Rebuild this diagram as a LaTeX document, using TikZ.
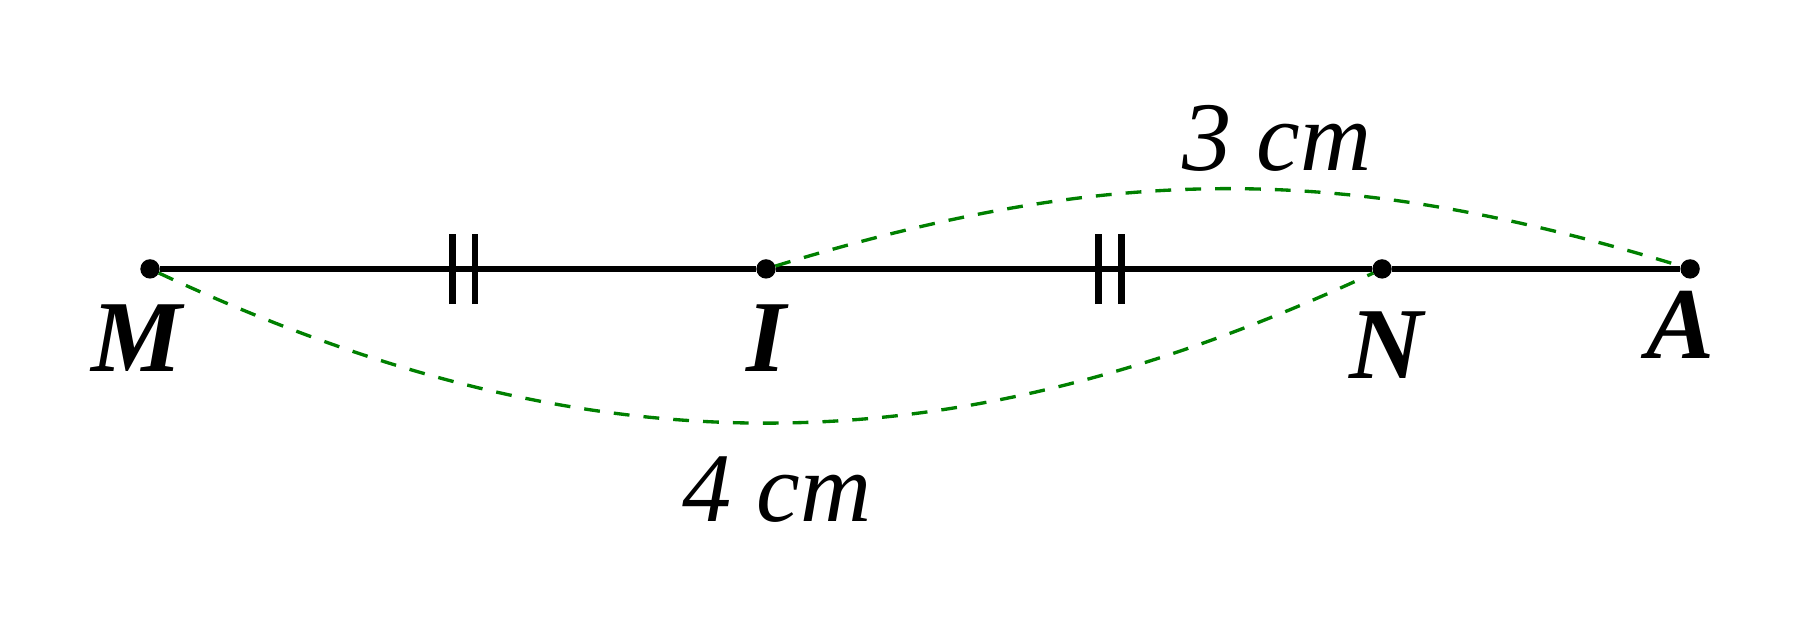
\documentclass[tikz,border=0pt]{standalone}
\usepackage{fontspec}
\setmainfont{Liberation Serif}
\usetikzlibrary{arrows.meta}

\begin{document}
\begin{tikzpicture}[scale=3.08]
\tikzstyle{pointstyle}=[draw, fill, circle, inner sep=0pt, minimum size=5.1pt]
\tikzstyle{namestyle}=[inner sep=0pt, font=\fontsize{29}{34}\selectfont\bfseries\itshape]
\tikzstyle{lengthstyle}=[inner sep=0pt, font=\fontsize{28}{34}\selectfont\itshape]
\tikzstyle{segline}=[line width=1.9pt]
\tikzstyle{dashline}=[green!50!black, line width=0.95pt, dash pattern=on 4.5pt off 4pt]
    \useasboundingbox (-0.487,-1.159) rectangle (5.399,0.873);
    \node[pointstyle] (M) at (0,0) {};
    \node[pointstyle] (I) at (2,0) {};
    \node[pointstyle] (N) at (4,0) {};
    \node[pointstyle] (A) at (5,0) {};
    \node[namestyle] (lM) at (-0.042,-0.224) {M};
    \node[namestyle] (lI) at (2,-0.224) {I};
    \node[namestyle] (lN) at (4.013,-0.247) {N};
    \node[namestyle] (lA) at (4.968,-0.182) {A};
    \draw[segline] (M) -- (I) -- (N) -- (A);
    % equal marks
    \draw[segline] (0.981,-0.114) -- (0.981,0.114);
    \draw[segline] (1.055,-0.114) -- (1.055,0.114);
    \draw[segline] (3.08,-0.114) -- (3.08,0.114);
    \draw[segline] (3.154,-0.114) -- (3.154,0.114);
    % lengths
    \draw[dashline] (I) to[bend left=17] (A);
    \draw[dashline] (M) to[bend right=25] (N);
    \node[lengthstyle] (IA) at (3.659,0.425) {3 cm};
    \node[lengthstyle] (MN) at (2.036,-0.718) {4 cm};
\end{tikzpicture}
\end{document}
